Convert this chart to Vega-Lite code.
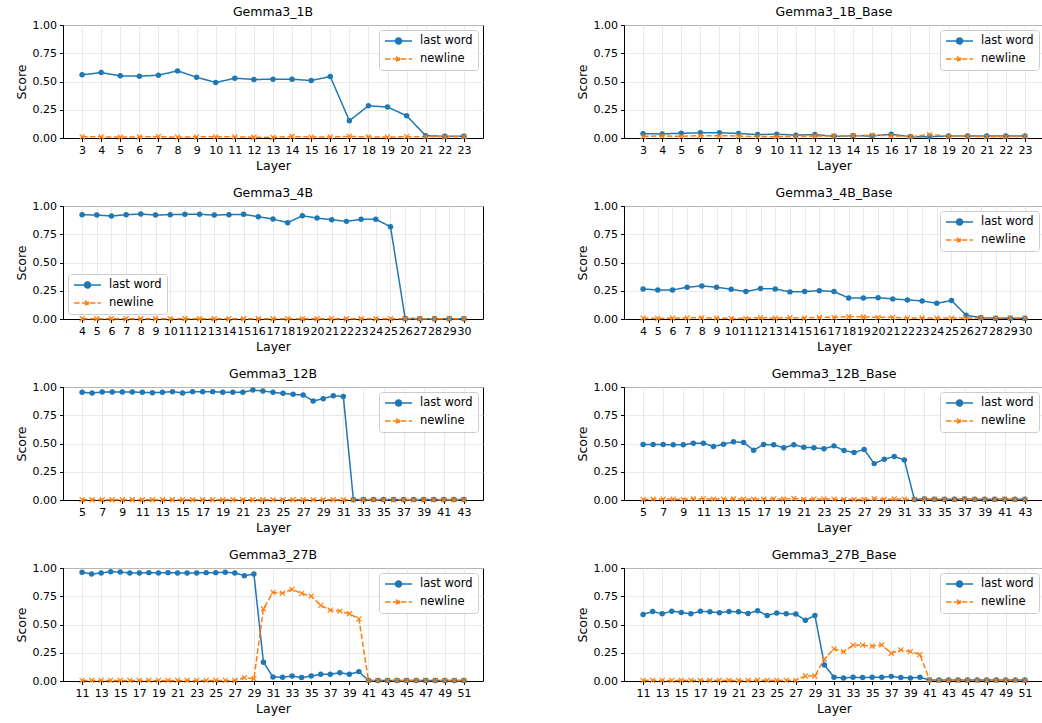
{
"$schema": "https://vega.github.io/schema/vega-lite/v6.json",
"padding": {"left": 14, "top": 5, "right": 0, "bottom": 0},
"background": "white",
"config": {
 "font": "DejaVu Sans",
 "view": {"stroke": "black", "strokeWidth": 1},
 "axis": {"domainColor": "black", "tickColor": "black", "labelColor": "black", "titleColor": "black", "labelFontSize": 11, "titleFontSize": 12.5, "titleFontWeight": "normal", "tickSize": 3.5, "labelPadding": 3, "gridColor": "#e3e3e3", "gridWidth": 0.8, "labelOverlap": false, "labelBound": false, "labelFlush": false},
 "title": {"fontSize": 12.5, "fontWeight": "normal", "offset": 1, "color": "black", "anchor": "middle"},
 "style": {"group-title": {"fontWeight": "normal"}, "guide-title": {"fontWeight": "normal"}},
 "legend": {"title": null, "offset": 5, "strokeColor": "#cccccc", "fillColor": "rgba(255,255,255,0.8)", "cornerRadius": 3, "padding": 5, "labelFontSize": 11.5, "labelColor": "black", "symbolSize": 100, "symbolStrokeWidth": 1.5, "labelOffset": 24, "rowPadding": 5}
},
"data": {"values": [
{"m":"1B","l":3,"last word":0.559,"newline":0.01},
{"m":"1B","l":4,"last word":0.579,"newline":0.01},
{"m":"1B","l":5,"last word":0.55,"newline":0.008},
{"m":"1B","l":6,"last word":0.547,"newline":0.01},
{"m":"1B","l":7,"last word":0.556,"newline":0.012},
{"m":"1B","l":8,"last word":0.594,"newline":0.008},
{"m":"1B","l":9,"last word":0.538,"newline":0.01},
{"m":"1B","l":10,"last word":0.491,"newline":0.01},
{"m":"1B","l":11,"last word":0.529,"newline":0.01},
{"m":"1B","l":12,"last word":0.518,"newline":0.007},
{"m":"1B","l":13,"last word":0.52,"newline":0.006},
{"m":"1B","l":14,"last word":0.52,"newline":0.013},
{"m":"1B","l":15,"last word":0.509,"newline":0.008},
{"m":"1B","l":16,"last word":0.544,"newline":0.01},
{"m":"1B","l":17,"last word":0.153,"newline":0.014},
{"m":"1B","l":18,"last word":0.285,"newline":0.01},
{"m":"1B","l":19,"last word":0.274,"newline":0.008},
{"m":"1B","l":20,"last word":0.197,"newline":0.012},
{"m":"1B","l":21,"last word":0.02,"newline":0.01},
{"m":"1B","l":22,"last word":0.015,"newline":0.01},
{"m":"1B","l":23,"last word":0.015,"newline":0.012},
{"m":"1BB","l":3,"last word":0.038,"newline":0.015},
{"m":"1BB","l":4,"last word":0.036,"newline":0.018},
{"m":"1BB","l":5,"last word":0.042,"newline":0.015},
{"m":"1BB","l":6,"last word":0.046,"newline":0.02},
{"m":"1BB","l":7,"last word":0.046,"newline":0.02},
{"m":"1BB","l":8,"last word":0.04,"newline":0.018},
{"m":"1BB","l":9,"last word":0.03,"newline":0.012},
{"m":"1BB","l":10,"last word":0.034,"newline":0.012},
{"m":"1BB","l":11,"last word":0.025,"newline":0.012},
{"m":"1BB","l":12,"last word":0.03,"newline":0.018},
{"m":"1BB","l":13,"last word":0.015,"newline":0.018},
{"m":"1BB","l":14,"last word":0.02,"newline":0.02},
{"m":"1BB","l":15,"last word":0.018,"newline":0.025},
{"m":"1BB","l":16,"last word":0.033,"newline":0.02},
{"m":"1BB","l":17,"last word":0.012,"newline":0.012},
{"m":"1BB","l":18,"last word":0.012,"newline":0.03},
{"m":"1BB","l":19,"last word":0.018,"newline":0.015},
{"m":"1BB","l":20,"last word":0.018,"newline":0.015},
{"m":"1BB","l":21,"last word":0.018,"newline":0.012},
{"m":"1BB","l":22,"last word":0.018,"newline":0.012},
{"m":"1BB","l":23,"last word":0.018,"newline":0.015},
{"m":"4B","l":4,"last word":0.923,"newline":0.002},
{"m":"4B","l":5,"last word":0.92,"newline":0.002},
{"m":"4B","l":6,"last word":0.911,"newline":0.002},
{"m":"4B","l":7,"last word":0.923,"newline":0.002},
{"m":"4B","l":8,"last word":0.929,"newline":0.002},
{"m":"4B","l":9,"last word":0.92,"newline":0.002},
{"m":"4B","l":10,"last word":0.923,"newline":0.002},
{"m":"4B","l":11,"last word":0.926,"newline":0.002},
{"m":"4B","l":12,"last word":0.926,"newline":0.002},
{"m":"4B","l":13,"last word":0.92,"newline":0.002},
{"m":"4B","l":14,"last word":0.923,"newline":0.002},
{"m":"4B","l":15,"last word":0.926,"newline":0.002},
{"m":"4B","l":16,"last word":0.905,"newline":0.002},
{"m":"4B","l":17,"last word":0.885,"newline":0.002},
{"m":"4B","l":18,"last word":0.852,"newline":0.002},
{"m":"4B","l":19,"last word":0.914,"newline":0.002},
{"m":"4B","l":20,"last word":0.893,"newline":0.002},
{"m":"4B","l":21,"last word":0.879,"newline":0.002},
{"m":"4B","l":22,"last word":0.864,"newline":0.002},
{"m":"4B","l":23,"last word":0.882,"newline":0.002},
{"m":"4B","l":24,"last word":0.882,"newline":0.002},
{"m":"4B","l":25,"last word":0.817,"newline":0.002},
{"m":"4B","l":26,"last word":0.005,"newline":0.002},
{"m":"4B","l":27,"last word":0.003,"newline":0.002},
{"m":"4B","l":28,"last word":0.003,"newline":0.002},
{"m":"4B","l":29,"last word":0.003,"newline":0.002},
{"m":"4B","l":30,"last word":0.003,"newline":0.002},
{"m":"4BB","l":4,"last word":0.266,"newline":0.008},
{"m":"4BB","l":5,"last word":0.257,"newline":0.005},
{"m":"4BB","l":6,"last word":0.257,"newline":0.008},
{"m":"4BB","l":7,"last word":0.281,"newline":0.01},
{"m":"4BB","l":8,"last word":0.293,"newline":0.01},
{"m":"4BB","l":9,"last word":0.281,"newline":0.008},
{"m":"4BB","l":10,"last word":0.263,"newline":0.005},
{"m":"4BB","l":11,"last word":0.243,"newline":0.006},
{"m":"4BB","l":12,"last word":0.269,"newline":0.012},
{"m":"4BB","l":13,"last word":0.266,"newline":0.008},
{"m":"4BB","l":14,"last word":0.24,"newline":0.012},
{"m":"4BB","l":15,"last word":0.243,"newline":0.008},
{"m":"4BB","l":16,"last word":0.251,"newline":0.015},
{"m":"4BB","l":17,"last word":0.243,"newline":0.015},
{"m":"4BB","l":18,"last word":0.186,"newline":0.02},
{"m":"4BB","l":19,"last word":0.186,"newline":0.018},
{"m":"4BB","l":20,"last word":0.189,"newline":0.015},
{"m":"4BB","l":21,"last word":0.178,"newline":0.015},
{"m":"4BB","l":22,"last word":0.169,"newline":0.008},
{"m":"4BB","l":23,"last word":0.16,"newline":0.01},
{"m":"4BB","l":24,"last word":0.139,"newline":0.008},
{"m":"4BB","l":25,"last word":0.163,"newline":0.008},
{"m":"4BB","l":26,"last word":0.033,"newline":0.008},
{"m":"4BB","l":27,"last word":0.012,"newline":0.01},
{"m":"4BB","l":28,"last word":0.006,"newline":0.008},
{"m":"4BB","l":29,"last word":0.006,"newline":0.01},
{"m":"4BB","l":30,"last word":0.006,"newline":0.008},
{"m":"12B","l":5,"last word":0.953,"newline":0.002},
{"m":"12B","l":6,"last word":0.947,"newline":0.002},
{"m":"12B","l":7,"last word":0.956,"newline":0.002},
{"m":"12B","l":8,"last word":0.956,"newline":0.002},
{"m":"12B","l":9,"last word":0.956,"newline":0.002},
{"m":"12B","l":10,"last word":0.956,"newline":0.002},
{"m":"12B","l":11,"last word":0.953,"newline":0.002},
{"m":"12B","l":12,"last word":0.95,"newline":0.002},
{"m":"12B","l":13,"last word":0.953,"newline":0.002},
{"m":"12B","l":14,"last word":0.959,"newline":0.002},
{"m":"12B","l":15,"last word":0.947,"newline":0.002},
{"m":"12B","l":16,"last word":0.959,"newline":0.002},
{"m":"12B","l":17,"last word":0.959,"newline":0.002},
{"m":"12B","l":18,"last word":0.959,"newline":0.002},
{"m":"12B","l":19,"last word":0.953,"newline":0.002},
{"m":"12B","l":20,"last word":0.953,"newline":0.002},
{"m":"12B","l":21,"last word":0.953,"newline":0.002},
{"m":"12B","l":22,"last word":0.973,"newline":0.002},
{"m":"12B","l":23,"last word":0.964,"newline":0.002},
{"m":"12B","l":24,"last word":0.953,"newline":0.002},
{"m":"12B","l":25,"last word":0.944,"newline":0.002},
{"m":"12B","l":26,"last word":0.935,"newline":0.002},
{"m":"12B","l":27,"last word":0.929,"newline":0.002},
{"m":"12B","l":28,"last word":0.876,"newline":0.002},
{"m":"12B","l":29,"last word":0.896,"newline":0.002},
{"m":"12B","l":30,"last word":0.923,"newline":0.002},
{"m":"12B","l":31,"last word":0.917,"newline":0.002},
{"m":"12B","l":32,"last word":0.003,"newline":0.002},
{"m":"12B","l":33,"last word":0.005,"newline":0.002},
{"m":"12B","l":34,"last word":0.005,"newline":0.002},
{"m":"12B","l":35,"last word":0.005,"newline":0.002},
{"m":"12B","l":36,"last word":0.005,"newline":0.002},
{"m":"12B","l":37,"last word":0.005,"newline":0.002},
{"m":"12B","l":38,"last word":0.005,"newline":0.002},
{"m":"12B","l":39,"last word":0.005,"newline":0.002},
{"m":"12B","l":40,"last word":0.005,"newline":0.002},
{"m":"12B","l":41,"last word":0.005,"newline":0.002},
{"m":"12B","l":42,"last word":0.005,"newline":0.002},
{"m":"12B","l":43,"last word":0.005,"newline":0.002},
{"m":"12BB","l":5,"last word":0.491,"newline":0.006},
{"m":"12BB","l":6,"last word":0.491,"newline":0.008},
{"m":"12BB","l":7,"last word":0.491,"newline":0.008},
{"m":"12BB","l":8,"last word":0.488,"newline":0.008},
{"m":"12BB","l":9,"last word":0.488,"newline":0.006},
{"m":"12BB","l":10,"last word":0.503,"newline":0.01},
{"m":"12BB","l":11,"last word":0.503,"newline":0.012},
{"m":"12BB","l":12,"last word":0.473,"newline":0.008},
{"m":"12BB","l":13,"last word":0.494,"newline":0.008},
{"m":"12BB","l":14,"last word":0.515,"newline":0.01},
{"m":"12BB","l":15,"last word":0.509,"newline":0.008},
{"m":"12BB","l":16,"last word":0.441,"newline":0.008},
{"m":"12BB","l":17,"last word":0.491,"newline":0.008},
{"m":"12BB","l":18,"last word":0.488,"newline":0.01},
{"m":"12BB","l":19,"last word":0.462,"newline":0.008},
{"m":"12BB","l":20,"last word":0.488,"newline":0.014},
{"m":"12BB","l":21,"last word":0.467,"newline":0.006},
{"m":"12BB","l":22,"last word":0.462,"newline":0.008},
{"m":"12BB","l":23,"last word":0.453,"newline":0.01},
{"m":"12BB","l":24,"last word":0.479,"newline":0.008},
{"m":"12BB","l":25,"last word":0.438,"newline":0.006},
{"m":"12BB","l":26,"last word":0.42,"newline":0.005},
{"m":"12BB","l":27,"last word":0.447,"newline":0.004},
{"m":"12BB","l":28,"last word":0.322,"newline":0.012},
{"m":"12BB","l":29,"last word":0.361,"newline":0.006},
{"m":"12BB","l":30,"last word":0.385,"newline":0.01},
{"m":"12BB","l":31,"last word":0.355,"newline":0.008},
{"m":"12BB","l":32,"last word":0.005,"newline":0.006},
{"m":"12BB","l":33,"last word":0.01,"newline":0.008},
{"m":"12BB","l":34,"last word":0.006,"newline":0.008},
{"m":"12BB","l":35,"last word":0.006,"newline":0.006},
{"m":"12BB","l":36,"last word":0.006,"newline":0.006},
{"m":"12BB","l":37,"last word":0.01,"newline":0.008},
{"m":"12BB","l":38,"last word":0.006,"newline":0.006},
{"m":"12BB","l":39,"last word":0.006,"newline":0.006},
{"m":"12BB","l":40,"last word":0.006,"newline":0.006},
{"m":"12BB","l":41,"last word":0.006,"newline":0.008},
{"m":"12BB","l":42,"last word":0.006,"newline":0.006},
{"m":"12BB","l":43,"last word":0.006,"newline":0.006},
{"m":"27B","l":11,"last word":0.962,"newline":0.005},
{"m":"27B","l":12,"last word":0.947,"newline":0.005},
{"m":"27B","l":13,"last word":0.956,"newline":0.005},
{"m":"27B","l":14,"last word":0.967,"newline":0.005},
{"m":"27B","l":15,"last word":0.964,"newline":0.005},
{"m":"27B","l":16,"last word":0.956,"newline":0.005},
{"m":"27B","l":17,"last word":0.956,"newline":0.005},
{"m":"27B","l":18,"last word":0.959,"newline":0.005},
{"m":"27B","l":19,"last word":0.956,"newline":0.005},
{"m":"27B","l":20,"last word":0.959,"newline":0.005},
{"m":"27B","l":21,"last word":0.956,"newline":0.005},
{"m":"27B","l":22,"last word":0.956,"newline":0.005},
{"m":"27B","l":23,"last word":0.956,"newline":0.005},
{"m":"27B","l":24,"last word":0.959,"newline":0.005},
{"m":"27B","l":25,"last word":0.959,"newline":0.005},
{"m":"27B","l":26,"last word":0.962,"newline":0.005},
{"m":"27B","l":27,"last word":0.956,"newline":0.005},
{"m":"27B","l":28,"last word":0.932,"newline":0.03},
{"m":"27B","l":29,"last word":0.947,"newline":0.02},
{"m":"27B","l":30,"last word":0.166,"newline":0.639},
{"m":"27B","l":31,"last word":0.036,"newline":0.784},
{"m":"27B","l":32,"last word":0.033,"newline":0.778},
{"m":"27B","l":33,"last word":0.044,"newline":0.811},
{"m":"27B","l":34,"last word":0.03,"newline":0.775},
{"m":"27B","l":35,"last word":0.044,"newline":0.751},
{"m":"27B","l":36,"last word":0.059,"newline":0.669},
{"m":"27B","l":37,"last word":0.059,"newline":0.627},
{"m":"27B","l":38,"last word":0.074,"newline":0.618},
{"m":"27B","l":39,"last word":0.059,"newline":0.595},
{"m":"27B","l":40,"last word":0.083,"newline":0.55},
{"m":"27B","l":41,"last word":0.005,"newline":0.005},
{"m":"27B","l":42,"last word":0.005,"newline":0.005},
{"m":"27B","l":43,"last word":0.005,"newline":0.005},
{"m":"27B","l":44,"last word":0.005,"newline":0.005},
{"m":"27B","l":45,"last word":0.005,"newline":0.005},
{"m":"27B","l":46,"last word":0.005,"newline":0.005},
{"m":"27B","l":47,"last word":0.005,"newline":0.005},
{"m":"27B","l":48,"last word":0.005,"newline":0.005},
{"m":"27B","l":49,"last word":0.005,"newline":0.005},
{"m":"27B","l":50,"last word":0.005,"newline":0.005},
{"m":"27B","l":51,"last word":0.005,"newline":0.005},
{"m":"27BB","l":11,"last word":0.589,"newline":0.005},
{"m":"27BB","l":12,"last word":0.615,"newline":0.006},
{"m":"27BB","l":13,"last word":0.595,"newline":0.005},
{"m":"27BB","l":14,"last word":0.618,"newline":0.005},
{"m":"27BB","l":15,"last word":0.607,"newline":0.006},
{"m":"27BB","l":16,"last word":0.595,"newline":0.005},
{"m":"27BB","l":17,"last word":0.618,"newline":0.006},
{"m":"27BB","l":18,"last word":0.612,"newline":0.006},
{"m":"27BB","l":19,"last word":0.604,"newline":0.005},
{"m":"27BB","l":20,"last word":0.615,"newline":0.006},
{"m":"27BB","l":21,"last word":0.612,"newline":0.004},
{"m":"27BB","l":22,"last word":0.598,"newline":0.005},
{"m":"27BB","l":23,"last word":0.621,"newline":0.008},
{"m":"27BB","l":24,"last word":0.58,"newline":0.006},
{"m":"27BB","l":25,"last word":0.601,"newline":0.005},
{"m":"27BB","l":26,"last word":0.595,"newline":0.006},
{"m":"27BB","l":27,"last word":0.592,"newline":0.006},
{"m":"27BB","l":28,"last word":0.538,"newline":0.044},
{"m":"27BB","l":29,"last word":0.58,"newline":0.044},
{"m":"27BB","l":30,"last word":0.142,"newline":0.195},
{"m":"27BB","l":31,"last word":0.033,"newline":0.284},
{"m":"27BB","l":32,"last word":0.027,"newline":0.26},
{"m":"27BB","l":33,"last word":0.033,"newline":0.317},
{"m":"27BB","l":34,"last word":0.03,"newline":0.317},
{"m":"27BB","l":35,"last word":0.033,"newline":0.308},
{"m":"27BB","l":36,"last word":0.033,"newline":0.32},
{"m":"27BB","l":37,"last word":0.041,"newline":0.246},
{"m":"27BB","l":38,"last word":0.03,"newline":0.275},
{"m":"27BB","l":39,"last word":0.027,"newline":0.26},
{"m":"27BB","l":40,"last word":0.033,"newline":0.234},
{"m":"27BB","l":41,"last word":0.009,"newline":0.01},
{"m":"27BB","l":42,"last word":0.008,"newline":0.006},
{"m":"27BB","l":43,"last word":0.008,"newline":0.006},
{"m":"27BB","l":44,"last word":0.008,"newline":0.006},
{"m":"27BB","l":45,"last word":0.008,"newline":0.006},
{"m":"27BB","l":46,"last word":0.008,"newline":0.006},
{"m":"27BB","l":47,"last word":0.008,"newline":0.006},
{"m":"27BB","l":48,"last word":0.008,"newline":0.006},
{"m":"27BB","l":49,"last word":0.008,"newline":0.006},
{"m":"27BB","l":50,"last word":0.008,"newline":0.006},
{"m":"27BB","l":51,"last word":0.008,"newline":0.006}
]},
"transform": [{"fold": ["last word", "newline"], "as": ["k", "s"]}],
"columns": 2,
"spacing": {"row": 13, "column": 91},
"resolve": {"scale": {"x": "independent", "y": "independent", "color": "independent", "strokeDash": "independent"}, "legend": {"color": "independent", "strokeDash": "independent"}},
"concat": [
{"title": "Gemma3_1B", "width": 420, "height": 113,
 "transform": [{"filter": "datum.m === '1B'"}],
 "encoding": {
  "x": {"field": "l", "type": "quantitative", "scale": {"domain": [2, 24], "nice": false, "zero": false}, "axis": {"title": "Layer", "values": [3,4,5,6,7,8,9,10,11,12,13,14,15,16,17,18,19,20,21,22,23]}},
  "y": {"field": "s", "type": "quantitative", "scale": {"domain": [0, 1], "nice": false}, "axis": {"title": "Score", "values": [0, 0.25, 0.5, 0.75, 1], "format": ".2f"}},
  "color": {"field": "k", "type": "nominal", "scale": {"domain": ["last word", "newline"], "range": ["#1f77b4", "#ff7f0e"]}, "legend": {"orient": "top-right", "symbolType": "M-1,0H4.4", "encode": {"symbols": {"update": {"shape": {"signal": "datum.value === 'last word' ? 'M-1,0H4.4M2.3,0A0.6,0.6 0 1,0 1.1,0A0.6,0.6 0 1,0 2.3,0Z' : 'M-1,0H4.4M1.2,-0.5L2.2,0.5M1.2,0.5L2.2,-0.5'"}, "fill": {"signal": "datum.value === 'last word' ? '#1f77b4' : 'transparent'"}}}}}}
 },
 "layer": [
  {"mark": {"type": "line", "strokeWidth": 1.5}, "encoding": {"strokeDash": {"field": "k", "type": "nominal", "scale": {"domain": ["last word", "newline"], "range": [[1, 0], [5.5, 2.4]]}, "legend": null}}},
  {"transform": [{"filter": "datum.k === 'last word'"}], "mark": {"type": "point", "shape": "circle", "filled": true, "size": 30, "opacity": 1}},
  {"transform": [{"filter": "datum.k === 'newline'"}], "mark": {"type": "point", "shape": "M-1,-1L1,1M-1,1L1,-1", "filled": false, "size": 25, "strokeWidth": 1.2, "opacity": 1}}
 ]},
{"title": "Gemma3_1B_Base", "width": 420, "height": 113,
 "transform": [{"filter": "datum.m === '1BB'"}],
 "encoding": {
  "x": {"field": "l", "type": "quantitative", "scale": {"domain": [2, 24], "nice": false, "zero": false}, "axis": {"title": "Layer", "values": [3,4,5,6,7,8,9,10,11,12,13,14,15,16,17,18,19,20,21,22,23]}},
  "y": {"field": "s", "type": "quantitative", "scale": {"domain": [0, 1], "nice": false}, "axis": {"title": "Score", "values": [0, 0.25, 0.5, 0.75, 1], "format": ".2f"}},
  "color": {"field": "k", "type": "nominal", "scale": {"domain": ["last word", "newline"], "range": ["#1f77b4", "#ff7f0e"]}, "legend": {"orient": "top-right", "symbolType": "M-1,0H4.4", "encode": {"symbols": {"update": {"shape": {"signal": "datum.value === 'last word' ? 'M-1,0H4.4M2.3,0A0.6,0.6 0 1,0 1.1,0A0.6,0.6 0 1,0 2.3,0Z' : 'M-1,0H4.4M1.2,-0.5L2.2,0.5M1.2,0.5L2.2,-0.5'"}, "fill": {"signal": "datum.value === 'last word' ? '#1f77b4' : 'transparent'"}}}}}}
 },
 "layer": [
  {"mark": {"type": "line", "strokeWidth": 1.5}, "encoding": {"strokeDash": {"field": "k", "type": "nominal", "scale": {"domain": ["last word", "newline"], "range": [[1, 0], [5.5, 2.4]]}, "legend": null}}},
  {"transform": [{"filter": "datum.k === 'last word'"}], "mark": {"type": "point", "shape": "circle", "filled": true, "size": 30, "opacity": 1}},
  {"transform": [{"filter": "datum.k === 'newline'"}], "mark": {"type": "point", "shape": "M-1,-1L1,1M-1,1L1,-1", "filled": false, "size": 25, "strokeWidth": 1.2, "opacity": 1}}
 ]},
{"title": "Gemma3_4B", "width": 420, "height": 113,
 "transform": [{"filter": "datum.m === '4B'"}],
 "encoding": {
  "x": {"field": "l", "type": "quantitative", "scale": {"domain": [2.7, 31.3], "nice": false, "zero": false}, "axis": {"title": "Layer", "values": [4,5,6,7,8,9,10,11,12,13,14,15,16,17,18,19,20,21,22,23,24,25,26,27,28,29,30]}},
  "y": {"field": "s", "type": "quantitative", "scale": {"domain": [0, 1], "nice": false}, "axis": {"title": "Score", "values": [0, 0.25, 0.5, 0.75, 1], "format": ".2f"}},
  "color": {"field": "k", "type": "nominal", "scale": {"domain": ["last word", "newline"], "range": ["#1f77b4", "#ff7f0e"]}, "legend": {"orient": "bottom-left", "symbolType": "M-1,0H4.4", "encode": {"symbols": {"update": {"shape": {"signal": "datum.value === 'last word' ? 'M-1,0H4.4M2.3,0A0.6,0.6 0 1,0 1.1,0A0.6,0.6 0 1,0 2.3,0Z' : 'M-1,0H4.4M1.2,-0.5L2.2,0.5M1.2,0.5L2.2,-0.5'"}, "fill": {"signal": "datum.value === 'last word' ? '#1f77b4' : 'transparent'"}}}}}}
 },
 "layer": [
  {"mark": {"type": "line", "strokeWidth": 1.5}, "encoding": {"strokeDash": {"field": "k", "type": "nominal", "scale": {"domain": ["last word", "newline"], "range": [[1, 0], [5.5, 2.4]]}, "legend": null}}},
  {"transform": [{"filter": "datum.k === 'last word'"}], "mark": {"type": "point", "shape": "circle", "filled": true, "size": 30, "opacity": 1}},
  {"transform": [{"filter": "datum.k === 'newline'"}], "mark": {"type": "point", "shape": "M-1,-1L1,1M-1,1L1,-1", "filled": false, "size": 25, "strokeWidth": 1.2, "opacity": 1}}
 ]},
{"title": "Gemma3_4B_Base", "width": 420, "height": 113,
 "transform": [{"filter": "datum.m === '4BB'"}],
 "encoding": {
  "x": {"field": "l", "type": "quantitative", "scale": {"domain": [2.7, 31.3], "nice": false, "zero": false}, "axis": {"title": "Layer", "values": [4,5,6,7,8,9,10,11,12,13,14,15,16,17,18,19,20,21,22,23,24,25,26,27,28,29,30]}},
  "y": {"field": "s", "type": "quantitative", "scale": {"domain": [0, 1], "nice": false}, "axis": {"title": "Score", "values": [0, 0.25, 0.5, 0.75, 1], "format": ".2f"}},
  "color": {"field": "k", "type": "nominal", "scale": {"domain": ["last word", "newline"], "range": ["#1f77b4", "#ff7f0e"]}, "legend": {"orient": "top-right", "symbolType": "M-1,0H4.4", "encode": {"symbols": {"update": {"shape": {"signal": "datum.value === 'last word' ? 'M-1,0H4.4M2.3,0A0.6,0.6 0 1,0 1.1,0A0.6,0.6 0 1,0 2.3,0Z' : 'M-1,0H4.4M1.2,-0.5L2.2,0.5M1.2,0.5L2.2,-0.5'"}, "fill": {"signal": "datum.value === 'last word' ? '#1f77b4' : 'transparent'"}}}}}}
 },
 "layer": [
  {"mark": {"type": "line", "strokeWidth": 1.5}, "encoding": {"strokeDash": {"field": "k", "type": "nominal", "scale": {"domain": ["last word", "newline"], "range": [[1, 0], [5.5, 2.4]]}, "legend": null}}},
  {"transform": [{"filter": "datum.k === 'last word'"}], "mark": {"type": "point", "shape": "circle", "filled": true, "size": 30, "opacity": 1}},
  {"transform": [{"filter": "datum.k === 'newline'"}], "mark": {"type": "point", "shape": "M-1,-1L1,1M-1,1L1,-1", "filled": false, "size": 25, "strokeWidth": 1.2, "opacity": 1}}
 ]},
{"title": "Gemma3_12B", "width": 420, "height": 113,
 "transform": [{"filter": "datum.m === '12B'"}],
 "encoding": {
  "x": {"field": "l", "type": "quantitative", "scale": {"domain": [3.1, 44.9], "nice": false, "zero": false}, "axis": {"title": "Layer", "values": [5,7,9,11,13,15,17,19,21,23,25,27,29,31,33,35,37,39,41,43]}},
  "y": {"field": "s", "type": "quantitative", "scale": {"domain": [0, 1], "nice": false}, "axis": {"title": "Score", "values": [0, 0.25, 0.5, 0.75, 1], "format": ".2f"}},
  "color": {"field": "k", "type": "nominal", "scale": {"domain": ["last word", "newline"], "range": ["#1f77b4", "#ff7f0e"]}, "legend": {"orient": "top-right", "symbolType": "M-1,0H4.4", "encode": {"symbols": {"update": {"shape": {"signal": "datum.value === 'last word' ? 'M-1,0H4.4M2.3,0A0.6,0.6 0 1,0 1.1,0A0.6,0.6 0 1,0 2.3,0Z' : 'M-1,0H4.4M1.2,-0.5L2.2,0.5M1.2,0.5L2.2,-0.5'"}, "fill": {"signal": "datum.value === 'last word' ? '#1f77b4' : 'transparent'"}}}}}}
 },
 "layer": [
  {"mark": {"type": "line", "strokeWidth": 1.5}, "encoding": {"strokeDash": {"field": "k", "type": "nominal", "scale": {"domain": ["last word", "newline"], "range": [[1, 0], [5.5, 2.4]]}, "legend": null}}},
  {"transform": [{"filter": "datum.k === 'last word'"}], "mark": {"type": "point", "shape": "circle", "filled": true, "size": 30, "opacity": 1}},
  {"transform": [{"filter": "datum.k === 'newline'"}], "mark": {"type": "point", "shape": "M-1,-1L1,1M-1,1L1,-1", "filled": false, "size": 25, "strokeWidth": 1.2, "opacity": 1}}
 ]},
{"title": "Gemma3_12B_Base", "width": 420, "height": 113,
 "transform": [{"filter": "datum.m === '12BB'"}],
 "encoding": {
  "x": {"field": "l", "type": "quantitative", "scale": {"domain": [3.1, 44.9], "nice": false, "zero": false}, "axis": {"title": "Layer", "values": [5,7,9,11,13,15,17,19,21,23,25,27,29,31,33,35,37,39,41,43]}},
  "y": {"field": "s", "type": "quantitative", "scale": {"domain": [0, 1], "nice": false}, "axis": {"title": "Score", "values": [0, 0.25, 0.5, 0.75, 1], "format": ".2f"}},
  "color": {"field": "k", "type": "nominal", "scale": {"domain": ["last word", "newline"], "range": ["#1f77b4", "#ff7f0e"]}, "legend": {"orient": "top-right", "symbolType": "M-1,0H4.4", "encode": {"symbols": {"update": {"shape": {"signal": "datum.value === 'last word' ? 'M-1,0H4.4M2.3,0A0.6,0.6 0 1,0 1.1,0A0.6,0.6 0 1,0 2.3,0Z' : 'M-1,0H4.4M1.2,-0.5L2.2,0.5M1.2,0.5L2.2,-0.5'"}, "fill": {"signal": "datum.value === 'last word' ? '#1f77b4' : 'transparent'"}}}}}}
 },
 "layer": [
  {"mark": {"type": "line", "strokeWidth": 1.5}, "encoding": {"strokeDash": {"field": "k", "type": "nominal", "scale": {"domain": ["last word", "newline"], "range": [[1, 0], [5.5, 2.4]]}, "legend": null}}},
  {"transform": [{"filter": "datum.k === 'last word'"}], "mark": {"type": "point", "shape": "circle", "filled": true, "size": 30, "opacity": 1}},
  {"transform": [{"filter": "datum.k === 'newline'"}], "mark": {"type": "point", "shape": "M-1,-1L1,1M-1,1L1,-1", "filled": false, "size": 25, "strokeWidth": 1.2, "opacity": 1}}
 ]},
{"title": "Gemma3_27B", "width": 420, "height": 113,
 "transform": [{"filter": "datum.m === '27B'"}],
 "encoding": {
  "x": {"field": "l", "type": "quantitative", "scale": {"domain": [9, 53], "nice": false, "zero": false}, "axis": {"title": "Layer", "values": [11,13,15,17,19,21,23,25,27,29,31,33,35,37,39,41,43,45,47,49,51]}},
  "y": {"field": "s", "type": "quantitative", "scale": {"domain": [0, 1], "nice": false}, "axis": {"title": "Score", "values": [0, 0.25, 0.5, 0.75, 1], "format": ".2f"}},
  "color": {"field": "k", "type": "nominal", "scale": {"domain": ["last word", "newline"], "range": ["#1f77b4", "#ff7f0e"]}, "legend": {"orient": "top-right", "symbolType": "M-1,0H4.4", "encode": {"symbols": {"update": {"shape": {"signal": "datum.value === 'last word' ? 'M-1,0H4.4M2.3,0A0.6,0.6 0 1,0 1.1,0A0.6,0.6 0 1,0 2.3,0Z' : 'M-1,0H4.4M1.2,-0.5L2.2,0.5M1.2,0.5L2.2,-0.5'"}, "fill": {"signal": "datum.value === 'last word' ? '#1f77b4' : 'transparent'"}}}}}}
 },
 "layer": [
  {"mark": {"type": "line", "strokeWidth": 1.5}, "encoding": {"strokeDash": {"field": "k", "type": "nominal", "scale": {"domain": ["last word", "newline"], "range": [[1, 0], [5.5, 2.4]]}, "legend": null}}},
  {"transform": [{"filter": "datum.k === 'last word'"}], "mark": {"type": "point", "shape": "circle", "filled": true, "size": 30, "opacity": 1}},
  {"transform": [{"filter": "datum.k === 'newline'"}], "mark": {"type": "point", "shape": "M-1,-1L1,1M-1,1L1,-1", "filled": false, "size": 25, "strokeWidth": 1.2, "opacity": 1}}
 ]},
{"title": "Gemma3_27B_Base", "width": 420, "height": 113,
 "transform": [{"filter": "datum.m === '27BB'"}],
 "encoding": {
  "x": {"field": "l", "type": "quantitative", "scale": {"domain": [9, 53], "nice": false, "zero": false}, "axis": {"title": "Layer", "values": [11,13,15,17,19,21,23,25,27,29,31,33,35,37,39,41,43,45,47,49,51]}},
  "y": {"field": "s", "type": "quantitative", "scale": {"domain": [0, 1], "nice": false}, "axis": {"title": "Score", "values": [0, 0.25, 0.5, 0.75, 1], "format": ".2f"}},
  "color": {"field": "k", "type": "nominal", "scale": {"domain": ["last word", "newline"], "range": ["#1f77b4", "#ff7f0e"]}, "legend": {"orient": "top-right", "symbolType": "M-1,0H4.4", "encode": {"symbols": {"update": {"shape": {"signal": "datum.value === 'last word' ? 'M-1,0H4.4M2.3,0A0.6,0.6 0 1,0 1.1,0A0.6,0.6 0 1,0 2.3,0Z' : 'M-1,0H4.4M1.2,-0.5L2.2,0.5M1.2,0.5L2.2,-0.5'"}, "fill": {"signal": "datum.value === 'last word' ? '#1f77b4' : 'transparent'"}}}}}}
 },
 "layer": [
  {"mark": {"type": "line", "strokeWidth": 1.5}, "encoding": {"strokeDash": {"field": "k", "type": "nominal", "scale": {"domain": ["last word", "newline"], "range": [[1, 0], [5.5, 2.4]]}, "legend": null}}},
  {"transform": [{"filter": "datum.k === 'last word'"}], "mark": {"type": "point", "shape": "circle", "filled": true, "size": 30, "opacity": 1}},
  {"transform": [{"filter": "datum.k === 'newline'"}], "mark": {"type": "point", "shape": "M-1,-1L1,1M-1,1L1,-1", "filled": false, "size": 25, "strokeWidth": 1.2, "opacity": 1}}
 ]}
]
}
